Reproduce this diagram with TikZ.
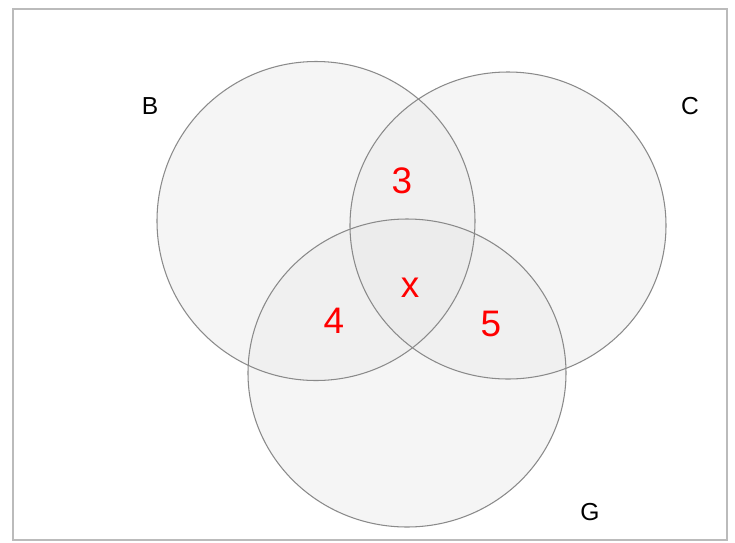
\documentclass[tikz,border=0pt]{standalone}
\usepackage{fontspec}
\setmainfont{Liberation Sans}
\definecolor{framegray}{HTML}{BBBBBB}
\definecolor{ringgray}{HTML}{8A8A8A}
\definecolor{numred}{HTML}{FF0000}
\definecolor{fillone}{HTML}{F5F5F5}
\definecolor{filltwo}{HTML}{F0F0F0}
\definecolor{fillthree}{HTML}{ECECEC}
\tikzset{
  setring/.style={draw=ringgray, line width=0.6pt},
  setlabel/.style={font=\fontsize{14}{16}\selectfont, text=black, inner sep=0pt},
  countlabel/.style={font=\fontsize{21}{24}\selectfont, text=numred, inner sep=0pt}
}
\def\shapeB{(316,221) ellipse [x radius=159, y radius=159.5]}
\def\shapeC{(508,225.5) ellipse [x radius=158, y radius=153.5]}
\def\shapeG{(407,373) ellipse [x radius=159, y radius=154]}
\begin{document}
\begin{tikzpicture}[x=0.02cm,y=-0.02cm]
\useasboundingbox (0,0) rectangle (735,542);
\fill[white] (0,0) rectangle (735,542);
\draw[framegray, line width=1.2pt] (13,9) rectangle (727,540);
% fills
\fill[fillone] \shapeB;
\fill[fillone] \shapeC;
\fill[fillone] \shapeG;
\begin{scope}\clip \shapeB; \fill[filltwo] \shapeC; \fill[filltwo] \shapeG; \end{scope}
\begin{scope}\clip \shapeC; \fill[filltwo] \shapeG; \end{scope}
\begin{scope}\clip \shapeB; \clip \shapeC; \fill[fillthree] \shapeG; \end{scope}
% outlines
\draw[setring] \shapeB;
\draw[setring] \shapeC;
\draw[setring] \shapeG;
\coordinate (cB) at (316,221);
\coordinate (cC) at (508,225.5);
\coordinate (cG) at (407,373);
\node[setlabel] (lB) at (150,106) {B};
\node[setlabel] (lC) at (690,106) {C};
\node[setlabel] (lG) at (590,512) {G};
\node[countlabel] (n3) at (402,181) {3};
\node[countlabel] (nx) at (410,288) {x};
\node[countlabel] (n4) at (334,321) {4};
\node[countlabel] (n5) at (491,324) {5};
\end{tikzpicture}
\end{document}
